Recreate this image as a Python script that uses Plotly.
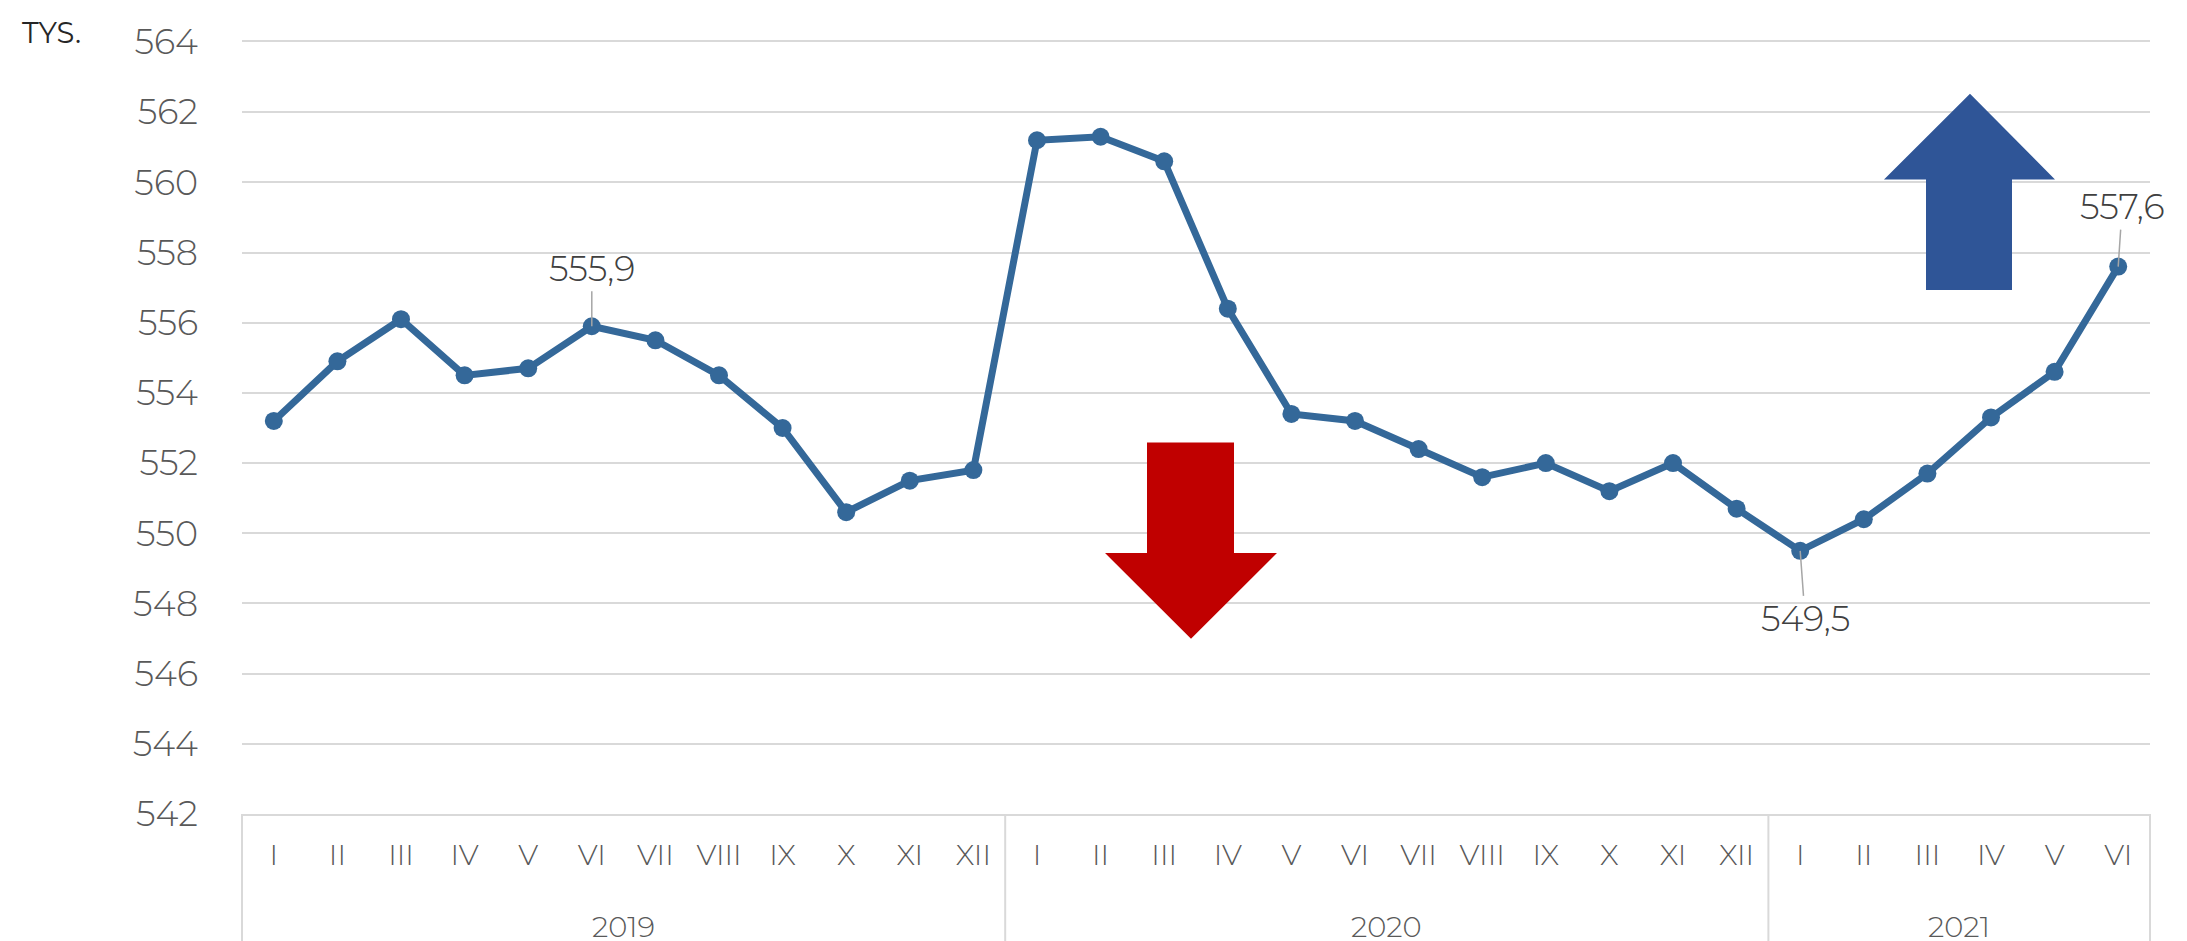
import plotly.graph_objects as go

# ---- data ----
years = ["2019", "2020", "2021"]
months_2019 = ["I", "II", "III", "IV", "V", "VI", "VII", "VIII", "IX", "X", "XI", "XII"]
months_2020 = ["I", "II", "III", "IV", "V", "VI", "VII", "VIII", "IX", "X", "XI", "XII"]
months_2021 = ["I", "II", "III", "IV", "V", "VI"]

values_2019 = [553.2, 554.9, 556.1, 554.5, 554.7, 555.9, 555.5, 554.5, 553.0, 550.6, 551.5, 551.8]
values_2020 = [561.2, 561.3, 560.6, 556.4, 553.4, 553.2, 552.4, 551.6, 552.0, 551.2, 552.0, 550.7]
values_2021 = [549.5, 550.4, 551.7, 553.3, 554.6, 557.6]

y_ticks = [542, 544, 546, 548, 550, 552, 554, 556, 558, 560, 562, 564]
unit_label = "TYS."

# labelled points: (index, text offset x, text offset y) in px
labelled = [(5, 0, -58), (24, 5, 68), (29, 4, -60)]

# ---- build ----
groups = [(years[0], months_2019), (years[1], months_2020), (years[2], months_2021)]
month_labels = months_2019 + months_2020 + months_2021
values = values_2019 + values_2020 + values_2021
xs = list(range(len(values)))
n = len(values)

W, H = 2187, 941
L, R, T, B = 234, 2142, 31, 806
FONT = "Montserrat, Lato, 'Open Sans', sans-serif"
LINE_C = "#346899"
GRID_C = "#D9D9D9"
TICK_C = "#595959"

fig = go.Figure()
fig.add_trace(go.Scatter(
    x=xs, y=values, mode="lines+markers",
    line=dict(color=LINE_C, width=7),
    marker=dict(color=LINE_C, size=18),
    showlegend=False, hoverinfo="y",
))

def fx(px):
    return (px - L) / (R - L)

def fy(py):
    return (B - py) / (B - T)

def fxd(xv):
    # data x -> paper fraction, range [-0.5, n-0.5]
    return (xv + 0.5) / n

def path(points):
    return "M " + " L ".join(f"{fx(x):.5f},{fy(y):.5f}" for x, y in points) + " Z"

up_arrow = [(1962, 83), (2047, 169), (2004, 169), (2004, 280), (1918, 280), (1918, 169), (1876, 169)]
down_arrow = [(1139, 433), (1226, 433), (1226, 544), (1269, 544), (1183, 630), (1097, 544), (1139, 544)]

shapes = [
    dict(type="path", xref="paper", yref="paper", path=path(up_arrow),
         fillcolor="#2F5597", line=dict(width=0), layer="above"),
    dict(type="path", xref="paper", yref="paper", path=path(down_arrow),
         fillcolor="#C00000", line=dict(width=0), layer="above"),
]

annotations = [
    dict(xref="paper", yref="paper", x=fx(12), y=fy(2), xanchor="left", yanchor="top",
         text=unit_label, showarrow=False, font=dict(family=FONT, size=29, color="#262626")),
]

# year group labels and dividers
start = 0
edges = [-0.5]
for yr, ms in groups:
    centre = start + (len(ms) - 1) / 2
    annotations.append(dict(
        xref="paper", yref="paper", x=fxd(centre), y=fy(919), xanchor="center", yanchor="middle",
        text=yr, showarrow=False, font=dict(family=FONT, size=29, color=TICK_C, weight=300),
    ))
    start += len(ms)
    edges.append(start - 0.5)
for e in edges:
    shapes.append(dict(type="line", xref="paper", yref="paper",
                       x0=fxd(e), x1=fxd(e), y0=0, y1=fy(H + 5),
                       line=dict(color=GRID_C, width=2)))

for idx, ax, ay in labelled:
    annotations.append(dict(
        x=xs[idx], y=values[idx], xref="x", yref="y",
        text=f"{values[idx]:.1f}".replace(".", ","),
        showarrow=True, arrowhead=0, arrowwidth=1.5, arrowcolor="#A6A6A6",
        ax=ax, ay=ay, standoff=0,
        font=dict(family=FONT, size=35, color="#404040", weight=300),
    ))

fig.update_layout(
    width=W, height=H,
    margin=dict(l=L, r=W - R, t=T, b=H - B),
    plot_bgcolor="white", paper_bgcolor="white",
    font=dict(family=FONT, color=TICK_C),
    shapes=shapes, annotations=annotations,
    xaxis=dict(
        range=[-0.5, n - 0.5], tickvals=xs, ticktext=month_labels,
        showgrid=False, showline=True, mirror=True, linecolor=GRID_C, linewidth=2,
        tickfont=dict(family=FONT, size=29, color=TICK_C, weight=300),
        ticks="outside", ticklen=14, tickcolor="rgba(0,0,0,0)", zeroline=False,
    ),
    yaxis=dict(
        range=[542, 564], tickvals=y_ticks, ticktext=[str(v) for v in y_ticks],
        showgrid=True, gridcolor=GRID_C, gridwidth=2,
        showline=False, zeroline=False,
        ticks="outside", ticklen=36, tickcolor="rgba(0,0,0,0)",
        tickfont=dict(family=FONT, size=35, color=TICK_C, weight=300),
    ),
)

fig.write_html("out.html")
